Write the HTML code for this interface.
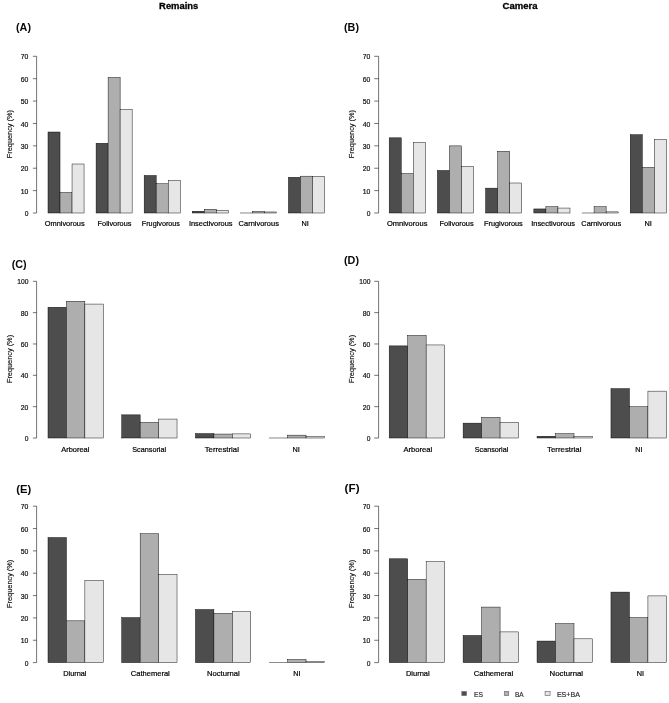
<!DOCTYPE html>
<html lang="en"><head><meta charset="utf-8"><title>Figure</title>
<style>html,body{margin:0;padding:0;background:#fff}svg{display:block;will-change:transform;filter:grayscale(1) blur(.25px)}text{font-family:"Liberation Sans",Arial,Helvetica,sans-serif;fill:#1c1c1c}.n{font-size:7.6px;fill:#111;stroke:#111;stroke-width:.22px}.t{font-size:7.3px;fill:#111;stroke:#111;stroke-width:.16px}.x{font-size:7.3px;fill:#000;stroke:#000;stroke-width:.2px}.p{font-size:11px;font-weight:bold;fill:#0a0a0a}.h{font-size:9.4px;font-weight:bold;fill:#000;stroke:#000;stroke-width:.3px}.l{font-size:7.2px;fill:#2e2e2e;stroke:#2e2e2e;stroke-width:.2px}</style></head><body>
<svg width="669" height="703" viewBox="0 0 669 703">
<rect width="669" height="703" fill="#fff"/>
<text class="h" x="159.1" y="9.1" textLength="39.2" lengthAdjust="spacingAndGlyphs">Remains</text>
<text class="h" x="502.6" y="9.1" textLength="35" lengthAdjust="spacingAndGlyphs">Camera</text>
<g>
<text class="p" x="16.0" y="31.3" textLength="15" lengthAdjust="spacingAndGlyphs">(A)</text>
<path d="M36.60 56.30V213.00M36.60 213.00H32.90M36.60 190.61H32.90M36.60 168.23H32.90M36.60 145.84H32.90M36.60 123.46H32.90M36.60 101.07H32.90M36.60 78.69H32.90M36.60 56.30H32.90" fill="none" stroke="#000" stroke-width="0.55"/>
<text class="n" x="24.7" y="216.1" textLength="3.7" lengthAdjust="spacingAndGlyphs">0</text>
<text class="n" x="20.8" y="193.7" textLength="7.6" lengthAdjust="spacingAndGlyphs">10</text>
<text class="n" x="20.8" y="171.3" textLength="7.6" lengthAdjust="spacingAndGlyphs">20</text>
<text class="n" x="20.8" y="148.9" textLength="7.6" lengthAdjust="spacingAndGlyphs">30</text>
<text class="n" x="20.8" y="126.5" textLength="7.6" lengthAdjust="spacingAndGlyphs">40</text>
<text class="n" x="20.8" y="104.1" textLength="7.6" lengthAdjust="spacingAndGlyphs">50</text>
<text class="n" x="20.8" y="81.7" textLength="7.6" lengthAdjust="spacingAndGlyphs">60</text>
<text class="n" x="20.8" y="59.4" textLength="7.6" lengthAdjust="spacingAndGlyphs">70</text>
<text class="t" x="-24.1" textLength="48.2" lengthAdjust="spacingAndGlyphs" transform="translate(11.5 134.1) rotate(-90)">Frequency (%)</text>
<rect x="48.00" y="132.01" width="12.02" height="80.99" fill="#4d4d4d" stroke="#000" stroke-width="0.45"/>
<rect x="60.02" y="192.51" width="12.02" height="20.49" fill="#aeaeae" stroke="#000" stroke-width="0.45"/>
<rect x="72.04" y="164.00" width="12.02" height="49.00" fill="#e6e6e6" stroke="#000" stroke-width="0.45"/>
<text class="x" x="44.7" y="226.2" textLength="40.0" lengthAdjust="spacingAndGlyphs">Omnivorous</text>
<rect x="96.09" y="143.29" width="12.02" height="69.71" fill="#4d4d4d" stroke="#000" stroke-width="0.45"/>
<rect x="108.11" y="77.45" width="12.02" height="135.55" fill="#aeaeae" stroke="#000" stroke-width="0.45"/>
<rect x="120.13" y="109.43" width="12.02" height="103.57" fill="#e6e6e6" stroke="#000" stroke-width="0.45"/>
<text class="x" x="97.6" y="226.2" textLength="33.8" lengthAdjust="spacingAndGlyphs">Folivorous</text>
<rect x="144.17" y="175.51" width="12.02" height="37.49" fill="#4d4d4d" stroke="#000" stroke-width="0.45"/>
<rect x="156.20" y="183.77" width="12.02" height="29.23" fill="#aeaeae" stroke="#000" stroke-width="0.45"/>
<rect x="168.22" y="180.32" width="12.02" height="32.68" fill="#e6e6e6" stroke="#000" stroke-width="0.45"/>
<text class="x" x="141.8" y="226.2" textLength="38.2" lengthAdjust="spacingAndGlyphs">Frugivorous</text>
<rect x="192.26" y="211.25" width="12.02" height="1.75" fill="#4d4d4d" stroke="#000" stroke-width="0.45"/>
<rect x="204.28" y="209.26" width="12.02" height="3.74" fill="#aeaeae" stroke="#000" stroke-width="0.45"/>
<rect x="216.30" y="210.29" width="12.02" height="2.71" fill="#e6e6e6" stroke="#000" stroke-width="0.45"/>
<text class="x" x="188.9" y="226.2" textLength="43.7" lengthAdjust="spacingAndGlyphs">Insectivorous</text>
<rect x="240.35" y="212.99" width="12.02" height="0.01" fill="#4d4d4d" stroke="#000" stroke-width="0.45"/>
<rect x="252.37" y="211.50" width="12.02" height="1.50" fill="#aeaeae" stroke="#000" stroke-width="0.45"/>
<rect x="264.39" y="211.97" width="12.02" height="1.03" fill="#e6e6e6" stroke="#000" stroke-width="0.45"/>
<text class="x" x="238.6" y="226.2" textLength="40.3" lengthAdjust="spacingAndGlyphs">Carnivorous</text>
<rect x="288.43" y="177.30" width="12.02" height="35.70" fill="#4d4d4d" stroke="#000" stroke-width="0.45"/>
<rect x="300.46" y="176.18" width="12.02" height="36.82" fill="#aeaeae" stroke="#000" stroke-width="0.45"/>
<rect x="312.48" y="176.30" width="12.02" height="36.70" fill="#e6e6e6" stroke="#000" stroke-width="0.45"/>
<text class="x" text-anchor="middle" x="305.2" y="226.2">NI</text>
</g>
<g>
<text class="p" x="344.0" y="31.2" textLength="15" lengthAdjust="spacingAndGlyphs">(B)</text>
<path d="M378.60 56.30V213.00M378.60 213.00H374.20M378.60 190.61H374.20M378.60 168.23H374.20M378.60 145.84H374.20M378.60 123.46H374.20M378.60 101.07H374.20M378.60 78.69H374.20M378.60 56.30H374.20" fill="none" stroke="#000" stroke-width="0.55"/>
<text class="n" x="366.7" y="216.1" textLength="3.7" lengthAdjust="spacingAndGlyphs">0</text>
<text class="n" x="362.8" y="193.7" textLength="7.6" lengthAdjust="spacingAndGlyphs">10</text>
<text class="n" x="362.8" y="171.3" textLength="7.6" lengthAdjust="spacingAndGlyphs">20</text>
<text class="n" x="362.8" y="148.9" textLength="7.6" lengthAdjust="spacingAndGlyphs">30</text>
<text class="n" x="362.8" y="126.5" textLength="7.6" lengthAdjust="spacingAndGlyphs">40</text>
<text class="n" x="362.8" y="104.1" textLength="7.6" lengthAdjust="spacingAndGlyphs">50</text>
<text class="n" x="362.8" y="81.7" textLength="7.6" lengthAdjust="spacingAndGlyphs">60</text>
<text class="n" x="362.8" y="59.4" textLength="7.6" lengthAdjust="spacingAndGlyphs">70</text>
<text class="t" x="-24.1" textLength="48.2" lengthAdjust="spacingAndGlyphs" transform="translate(353.5 134.1) rotate(-90)">Frequency (%)</text>
<rect x="389.20" y="137.83" width="12.05" height="75.17" fill="#4d4d4d" stroke="#000" stroke-width="0.45"/>
<rect x="401.25" y="173.61" width="12.05" height="39.39" fill="#aeaeae" stroke="#000" stroke-width="0.45"/>
<rect x="413.30" y="142.53" width="12.05" height="70.47" fill="#e6e6e6" stroke="#000" stroke-width="0.45"/>
<text class="x" x="386.9" y="226.2" textLength="40.5" lengthAdjust="spacingAndGlyphs">Omnivorous</text>
<rect x="437.41" y="170.48" width="12.05" height="42.52" fill="#4d4d4d" stroke="#000" stroke-width="0.45"/>
<rect x="449.46" y="145.88" width="12.05" height="67.12" fill="#aeaeae" stroke="#000" stroke-width="0.45"/>
<rect x="461.51" y="166.46" width="12.05" height="46.54" fill="#e6e6e6" stroke="#000" stroke-width="0.45"/>
<text class="x" x="439.6" y="226.2" textLength="34.0" lengthAdjust="spacingAndGlyphs">Folivorous</text>
<rect x="485.62" y="188.15" width="12.05" height="24.85" fill="#4d4d4d" stroke="#000" stroke-width="0.45"/>
<rect x="497.67" y="151.25" width="12.05" height="61.75" fill="#aeaeae" stroke="#000" stroke-width="0.45"/>
<rect x="509.72" y="183.01" width="12.05" height="29.99" fill="#e6e6e6" stroke="#000" stroke-width="0.45"/>
<text class="x" x="484.0" y="226.2" textLength="38.8" lengthAdjust="spacingAndGlyphs">Frugivorous</text>
<rect x="533.83" y="208.95" width="12.05" height="4.05" fill="#4d4d4d" stroke="#000" stroke-width="0.45"/>
<rect x="545.88" y="206.71" width="12.05" height="6.29" fill="#aeaeae" stroke="#000" stroke-width="0.45"/>
<rect x="557.93" y="208.05" width="12.05" height="4.95" fill="#e6e6e6" stroke="#000" stroke-width="0.45"/>
<text class="x" x="531.2" y="226.2" textLength="43.9" lengthAdjust="spacingAndGlyphs">Insectivorous</text>
<rect x="582.03" y="212.99" width="12.05" height="0.01" fill="#4d4d4d" stroke="#000" stroke-width="0.45"/>
<rect x="594.09" y="206.71" width="12.05" height="6.29" fill="#aeaeae" stroke="#000" stroke-width="0.45"/>
<rect x="606.14" y="211.86" width="12.05" height="1.14" fill="#e6e6e6" stroke="#000" stroke-width="0.45"/>
<text class="x" x="581.3" y="226.2" textLength="39.8" lengthAdjust="spacingAndGlyphs">Carnivorous</text>
<rect x="630.24" y="134.70" width="12.05" height="78.30" fill="#4d4d4d" stroke="#000" stroke-width="0.45"/>
<rect x="642.30" y="167.35" width="12.05" height="45.65" fill="#aeaeae" stroke="#000" stroke-width="0.45"/>
<rect x="654.35" y="139.40" width="12.05" height="73.60" fill="#e6e6e6" stroke="#000" stroke-width="0.45"/>
<text class="x" text-anchor="middle" x="648.1" y="226.2">NI</text>
</g>
<g>
<text class="p" x="11.7" y="268.0" textLength="15" lengthAdjust="spacingAndGlyphs">(C)</text>
<path d="M36.60 281.30V438.00M36.60 438.00H32.90M36.60 406.66H32.90M36.60 375.32H32.90M36.60 343.98H32.90M36.60 312.64H32.90M36.60 281.30H32.90" fill="none" stroke="#000" stroke-width="0.55"/>
<text class="n" x="24.7" y="441.1" textLength="3.7" lengthAdjust="spacingAndGlyphs">0</text>
<text class="n" x="20.8" y="409.7" textLength="7.6" lengthAdjust="spacingAndGlyphs">20</text>
<text class="n" x="20.8" y="378.4" textLength="7.6" lengthAdjust="spacingAndGlyphs">40</text>
<text class="n" x="20.8" y="347.0" textLength="7.6" lengthAdjust="spacingAndGlyphs">60</text>
<text class="n" x="20.8" y="315.7" textLength="7.6" lengthAdjust="spacingAndGlyphs">80</text>
<text class="n" x="17.2" y="284.4" textLength="11.2" lengthAdjust="spacingAndGlyphs">100</text>
<text class="t" x="-24.1" textLength="48.2" lengthAdjust="spacingAndGlyphs" transform="translate(11.5 359.0) rotate(-90)">Frequency (%)</text>
<rect x="48.00" y="307.26" width="18.43" height="130.74" fill="#4d4d4d" stroke="#000" stroke-width="0.45"/>
<rect x="66.43" y="301.26" width="18.43" height="136.74" fill="#aeaeae" stroke="#000" stroke-width="0.45"/>
<rect x="84.87" y="304.07" width="18.43" height="133.93" fill="#e6e6e6" stroke="#000" stroke-width="0.45"/>
<text class="x" x="61.2" y="451.8" textLength="28.2" lengthAdjust="spacingAndGlyphs">Arboreal</text>
<rect x="121.73" y="414.86" width="18.43" height="23.14" fill="#4d4d4d" stroke="#000" stroke-width="0.45"/>
<rect x="140.17" y="422.35" width="18.43" height="15.65" fill="#aeaeae" stroke="#000" stroke-width="0.45"/>
<rect x="158.60" y="419.07" width="18.43" height="18.93" fill="#e6e6e6" stroke="#000" stroke-width="0.45"/>
<text class="x" x="132.3" y="451.8" textLength="33.8" lengthAdjust="spacingAndGlyphs">Scansorial</text>
<rect x="195.47" y="433.59" width="18.43" height="4.41" fill="#4d4d4d" stroke="#000" stroke-width="0.45"/>
<rect x="213.90" y="434.05" width="18.43" height="3.95" fill="#aeaeae" stroke="#000" stroke-width="0.45"/>
<rect x="232.33" y="433.90" width="18.43" height="4.10" fill="#e6e6e6" stroke="#000" stroke-width="0.45"/>
<text class="x" x="204.7" y="451.8" textLength="34.2" lengthAdjust="spacingAndGlyphs">Terrestrial</text>
<rect x="269.20" y="437.99" width="18.43" height="0.01" fill="#4d4d4d" stroke="#000" stroke-width="0.45"/>
<rect x="287.63" y="435.15" width="18.43" height="2.85" fill="#aeaeae" stroke="#000" stroke-width="0.45"/>
<rect x="306.07" y="436.55" width="18.43" height="1.45" fill="#e6e6e6" stroke="#000" stroke-width="0.45"/>
<text class="x" text-anchor="middle" x="296.2" y="451.8">NI</text>
</g>
<g>
<text class="p" x="344.0" y="264.4" textLength="15" lengthAdjust="spacingAndGlyphs">(D)</text>
<path d="M378.60 281.30V438.00M378.60 438.00H374.20M378.60 406.66H374.20M378.60 375.32H374.20M378.60 343.98H374.20M378.60 312.64H374.20M378.60 281.30H374.20" fill="none" stroke="#000" stroke-width="0.55"/>
<text class="n" x="366.7" y="441.1" textLength="3.7" lengthAdjust="spacingAndGlyphs">0</text>
<text class="n" x="362.8" y="409.7" textLength="7.6" lengthAdjust="spacingAndGlyphs">20</text>
<text class="n" x="362.8" y="378.4" textLength="7.6" lengthAdjust="spacingAndGlyphs">40</text>
<text class="n" x="362.8" y="347.0" textLength="7.6" lengthAdjust="spacingAndGlyphs">60</text>
<text class="n" x="362.8" y="315.7" textLength="7.6" lengthAdjust="spacingAndGlyphs">80</text>
<text class="n" x="359.2" y="284.4" textLength="11.2" lengthAdjust="spacingAndGlyphs">100</text>
<text class="t" x="-24.1" textLength="48.2" lengthAdjust="spacingAndGlyphs" transform="translate(353.5 359.0) rotate(-90)">Frequency (%)</text>
<rect x="389.20" y="345.89" width="18.48" height="92.11" fill="#4d4d4d" stroke="#000" stroke-width="0.45"/>
<rect x="407.68" y="335.43" width="18.48" height="102.57" fill="#aeaeae" stroke="#000" stroke-width="0.45"/>
<rect x="426.16" y="344.95" width="18.48" height="93.05" fill="#e6e6e6" stroke="#000" stroke-width="0.45"/>
<text class="x" x="403.4" y="451.8" textLength="28.8" lengthAdjust="spacingAndGlyphs">Arboreal</text>
<rect x="463.12" y="423.13" width="18.48" height="14.87" fill="#4d4d4d" stroke="#000" stroke-width="0.45"/>
<rect x="481.60" y="417.36" width="18.48" height="20.64" fill="#aeaeae" stroke="#000" stroke-width="0.45"/>
<rect x="500.08" y="422.35" width="18.48" height="15.65" fill="#e6e6e6" stroke="#000" stroke-width="0.45"/>
<text class="x" x="474.8" y="451.8" textLength="33.5" lengthAdjust="spacingAndGlyphs">Scansorial</text>
<rect x="537.04" y="436.24" width="18.48" height="1.76" fill="#4d4d4d" stroke="#000" stroke-width="0.45"/>
<rect x="555.52" y="433.74" width="18.48" height="4.26" fill="#aeaeae" stroke="#000" stroke-width="0.45"/>
<rect x="574.00" y="436.24" width="18.48" height="1.76" fill="#e6e6e6" stroke="#000" stroke-width="0.45"/>
<text class="x" x="547.1" y="451.8" textLength="34.3" lengthAdjust="spacingAndGlyphs">Terrestrial</text>
<rect x="610.96" y="388.64" width="18.48" height="49.36" fill="#4d4d4d" stroke="#000" stroke-width="0.45"/>
<rect x="629.44" y="406.75" width="18.48" height="31.25" fill="#aeaeae" stroke="#000" stroke-width="0.45"/>
<rect x="647.92" y="391.14" width="18.48" height="46.86" fill="#e6e6e6" stroke="#000" stroke-width="0.45"/>
<text class="x" text-anchor="middle" x="638.8" y="451.8">NI</text>
</g>
<g>
<text class="p" x="16.2" y="492.7" textLength="15" lengthAdjust="spacingAndGlyphs">(E)</text>
<path d="M36.60 506.20V662.60M36.60 662.60H32.90M36.60 640.26H32.90M36.60 617.91H32.90M36.60 595.57H32.90M36.60 573.23H32.90M36.60 550.89H32.90M36.60 528.54H32.90M36.60 506.20H32.90" fill="none" stroke="#000" stroke-width="0.55"/>
<text class="n" x="24.7" y="665.6" textLength="3.7" lengthAdjust="spacingAndGlyphs">0</text>
<text class="n" x="20.8" y="643.3" textLength="7.6" lengthAdjust="spacingAndGlyphs">10</text>
<text class="n" x="20.8" y="621.0" textLength="7.6" lengthAdjust="spacingAndGlyphs">20</text>
<text class="n" x="20.8" y="598.6" textLength="7.6" lengthAdjust="spacingAndGlyphs">30</text>
<text class="n" x="20.8" y="576.3" textLength="7.6" lengthAdjust="spacingAndGlyphs">40</text>
<text class="n" x="20.8" y="553.9" textLength="7.6" lengthAdjust="spacingAndGlyphs">50</text>
<text class="n" x="20.8" y="531.6" textLength="7.6" lengthAdjust="spacingAndGlyphs">60</text>
<text class="n" x="20.8" y="509.2" textLength="7.6" lengthAdjust="spacingAndGlyphs">70</text>
<text class="t" x="-24.1" textLength="48.2" lengthAdjust="spacingAndGlyphs" transform="translate(11.5 583.8) rotate(-90)">Frequency (%)</text>
<rect x="48.00" y="537.55" width="18.43" height="125.05" fill="#4d4d4d" stroke="#000" stroke-width="0.45"/>
<rect x="66.43" y="620.83" width="18.43" height="41.77" fill="#aeaeae" stroke="#000" stroke-width="0.45"/>
<rect x="84.87" y="580.48" width="18.43" height="82.12" fill="#e6e6e6" stroke="#000" stroke-width="0.45"/>
<text class="x" x="63.2" y="675.8" textLength="23.3" lengthAdjust="spacingAndGlyphs">Diurnal</text>
<rect x="121.73" y="617.59" width="18.43" height="45.01" fill="#4d4d4d" stroke="#000" stroke-width="0.45"/>
<rect x="140.17" y="533.75" width="18.43" height="128.85" fill="#aeaeae" stroke="#000" stroke-width="0.45"/>
<rect x="158.60" y="574.44" width="18.43" height="88.16" fill="#e6e6e6" stroke="#000" stroke-width="0.45"/>
<text class="x" x="130.8" y="675.8" textLength="39.0" lengthAdjust="spacingAndGlyphs">Cathemeral</text>
<rect x="195.47" y="609.54" width="18.43" height="53.06" fill="#4d4d4d" stroke="#000" stroke-width="0.45"/>
<rect x="213.90" y="613.34" width="18.43" height="49.26" fill="#aeaeae" stroke="#000" stroke-width="0.45"/>
<rect x="232.33" y="611.55" width="18.43" height="51.05" fill="#e6e6e6" stroke="#000" stroke-width="0.45"/>
<text class="x" x="206.9" y="675.8" textLength="32.8" lengthAdjust="spacingAndGlyphs">Nocturnal</text>
<rect x="269.20" y="662.59" width="18.43" height="0.01" fill="#4d4d4d" stroke="#000" stroke-width="0.45"/>
<rect x="287.63" y="659.51" width="18.43" height="3.09" fill="#aeaeae" stroke="#000" stroke-width="0.45"/>
<rect x="306.07" y="661.63" width="18.43" height="0.97" fill="#e6e6e6" stroke="#000" stroke-width="0.45"/>
<text class="x" text-anchor="middle" x="296.8" y="675.8">NI</text>
</g>
<g>
<text class="p" x="344.6" y="492.0" textLength="15" lengthAdjust="spacingAndGlyphs">(F)</text>
<path d="M378.60 506.20V662.60M378.60 662.60H374.20M378.60 640.26H374.20M378.60 617.91H374.20M378.60 595.57H374.20M378.60 573.23H374.20M378.60 550.89H374.20M378.60 528.54H374.20M378.60 506.20H374.20" fill="none" stroke="#000" stroke-width="0.55"/>
<text class="n" x="366.7" y="665.6" textLength="3.7" lengthAdjust="spacingAndGlyphs">0</text>
<text class="n" x="362.8" y="643.3" textLength="7.6" lengthAdjust="spacingAndGlyphs">10</text>
<text class="n" x="362.8" y="621.0" textLength="7.6" lengthAdjust="spacingAndGlyphs">20</text>
<text class="n" x="362.8" y="598.6" textLength="7.6" lengthAdjust="spacingAndGlyphs">30</text>
<text class="n" x="362.8" y="576.3" textLength="7.6" lengthAdjust="spacingAndGlyphs">40</text>
<text class="n" x="362.8" y="553.9" textLength="7.6" lengthAdjust="spacingAndGlyphs">50</text>
<text class="n" x="362.8" y="531.6" textLength="7.6" lengthAdjust="spacingAndGlyphs">60</text>
<text class="n" x="362.8" y="509.2" textLength="7.6" lengthAdjust="spacingAndGlyphs">70</text>
<text class="t" x="-24.1" textLength="48.2" lengthAdjust="spacingAndGlyphs" transform="translate(353.5 583.8) rotate(-90)">Frequency (%)</text>
<rect x="389.20" y="558.79" width="18.48" height="103.81" fill="#4d4d4d" stroke="#000" stroke-width="0.45"/>
<rect x="407.68" y="579.36" width="18.48" height="83.24" fill="#aeaeae" stroke="#000" stroke-width="0.45"/>
<rect x="426.16" y="561.70" width="18.48" height="100.90" fill="#e6e6e6" stroke="#000" stroke-width="0.45"/>
<text class="x" x="405.9" y="675.8" textLength="23.8" lengthAdjust="spacingAndGlyphs">Diurnal</text>
<rect x="463.12" y="635.47" width="18.48" height="27.13" fill="#4d4d4d" stroke="#000" stroke-width="0.45"/>
<rect x="481.60" y="607.08" width="18.48" height="55.52" fill="#aeaeae" stroke="#000" stroke-width="0.45"/>
<rect x="500.08" y="631.90" width="18.48" height="30.70" fill="#e6e6e6" stroke="#000" stroke-width="0.45"/>
<text class="x" x="473.8" y="675.8" textLength="39.3" lengthAdjust="spacingAndGlyphs">Cathemeral</text>
<rect x="537.04" y="641.06" width="18.48" height="21.54" fill="#4d4d4d" stroke="#000" stroke-width="0.45"/>
<rect x="555.52" y="623.62" width="18.48" height="38.98" fill="#aeaeae" stroke="#000" stroke-width="0.45"/>
<rect x="574.00" y="638.83" width="18.48" height="23.77" fill="#e6e6e6" stroke="#000" stroke-width="0.45"/>
<text class="x" x="549.6" y="675.8" textLength="33.5" lengthAdjust="spacingAndGlyphs">Nocturnal</text>
<rect x="610.96" y="592.10" width="18.48" height="70.50" fill="#4d4d4d" stroke="#000" stroke-width="0.45"/>
<rect x="629.44" y="617.59" width="18.48" height="45.01" fill="#aeaeae" stroke="#000" stroke-width="0.45"/>
<rect x="647.92" y="595.90" width="18.48" height="66.70" fill="#e6e6e6" stroke="#000" stroke-width="0.45"/>
<text class="x" text-anchor="middle" x="640.5" y="675.8">NI</text>
</g>
<g>
<rect x="461.8" y="691.5" width="4.7" height="4.1" fill="#4d4d4d" stroke="#707070" stroke-width="0.7"/>
<text class="l" x="473.9" y="696.5" textLength="9.0" lengthAdjust="spacingAndGlyphs">ES</text>
<rect x="504.3" y="691.5" width="4.4" height="4.1" fill="#aeaeae" stroke="#707070" stroke-width="0.7"/>
<text class="l" x="515.0" y="696.5" textLength="8.7" lengthAdjust="spacingAndGlyphs">BA</text>
<rect x="545.1" y="691.5" width="5.0" height="4.1" fill="#e6e6e6" stroke="#707070" stroke-width="0.7"/>
<text class="l" x="556.9" y="696.5" textLength="23.0" lengthAdjust="spacingAndGlyphs">ES+BA</text>
</g>
</svg></body></html>
